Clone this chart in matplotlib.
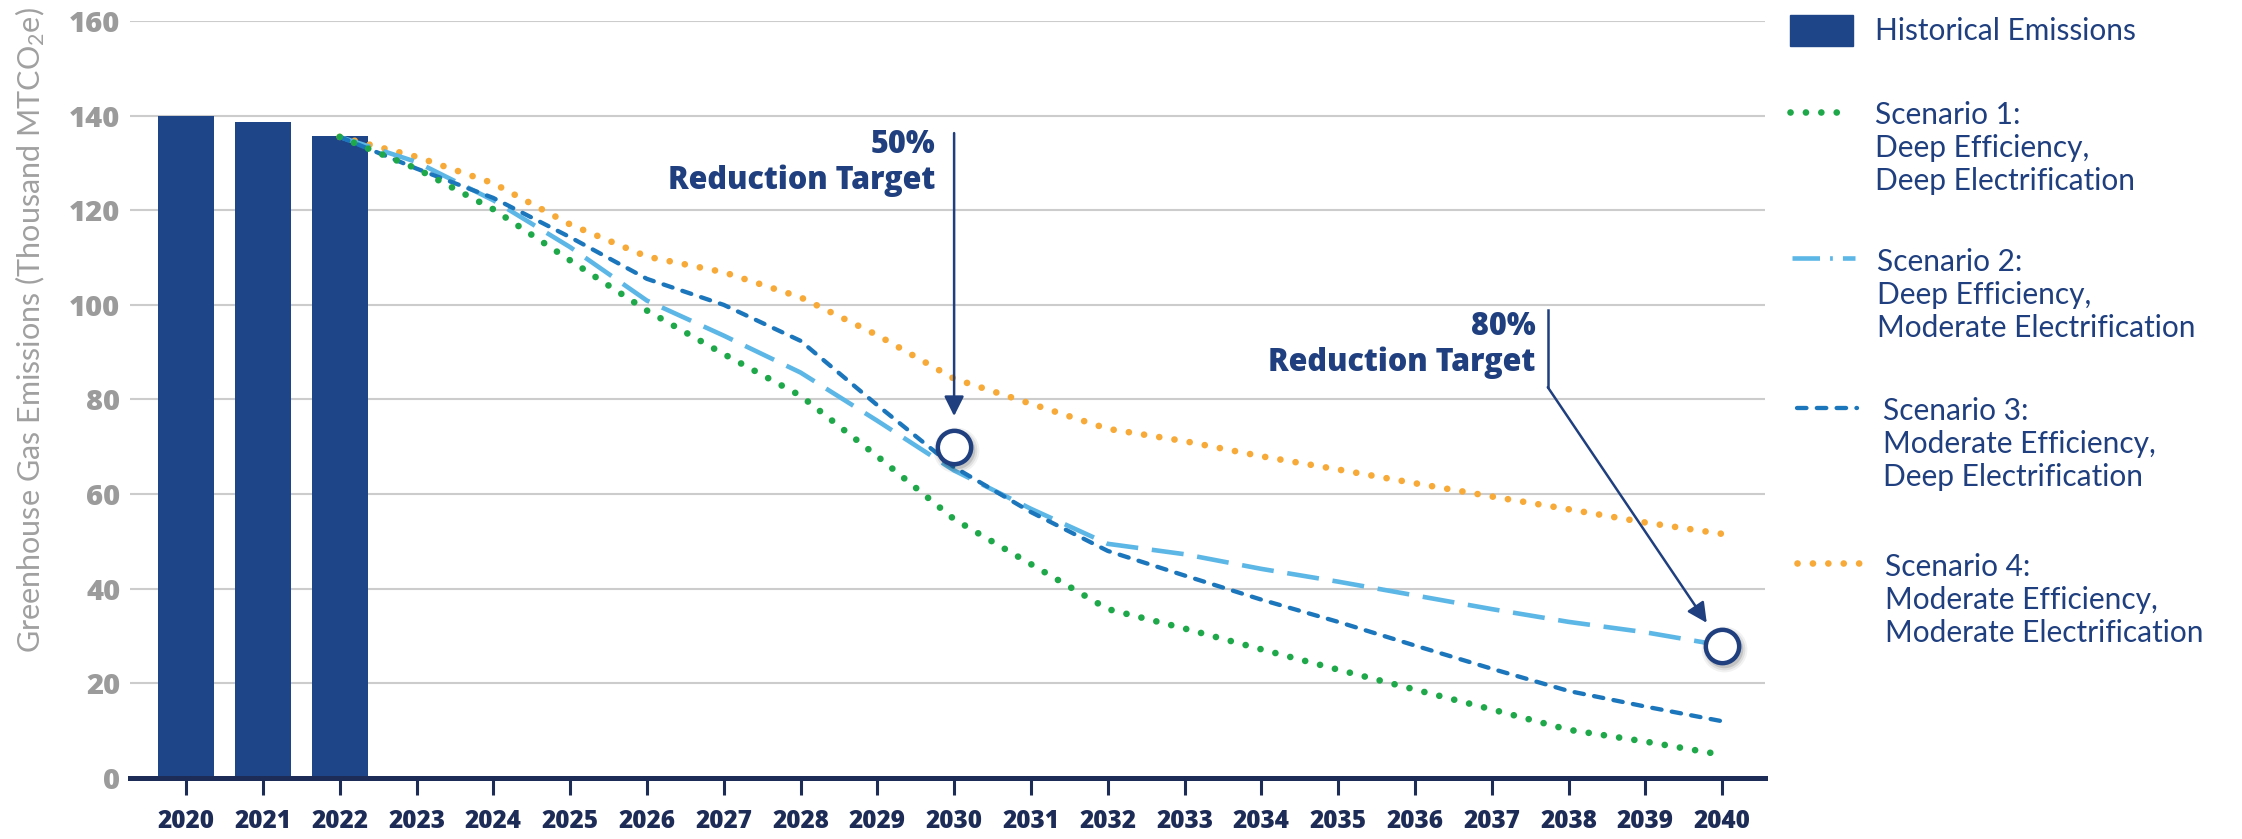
import matplotlib
matplotlib.use("Agg")
import matplotlib.pyplot as plt
from matplotlib.patches import Rectangle
from matplotlib.transforms import offset_copy

plt.rcParams['font.family'] = ['Lato', 'DejaVu Sans']
plt.rcParams['mathtext.default'] = 'regular'
heavy = ['Open Sans', 'DejaVu Sans']

# historical inventory (thousand MTCO2e)
hist_years = [2020, 2021, 2022]
hist_emissions = [140.0, 138.7, 135.7]

# projected scenarios, 2022-2040
years = list(range(2022, 2041))
scenario_1 = [135.5, 128.8, 120.2, 109.4, 98.8, 89.6, 80.8, 68.0, 54.7, 45.2,
              35.7, 31.6, 27.2, 22.9, 18.7, 14.5, 10.2, 7.7, 4.9]
scenario_2 = [135.5, 130.2, 122.1, 112.2, 100.9, 93.5, 85.7, 75.5, 65.0, 56.9,
              49.5, 47.3, 44.2, 41.5, 38.6, 35.7, 33.0, 30.8, 28.0]
scenario_3 = [135.5, 128.8, 122.6, 114.3, 105.5, 100.0, 92.4, 78.8, 65.7, 56.2,
              48.0, 42.8, 37.7, 33.0, 28.0, 23.1, 18.4, 15.1, 12.0]
scenario_4 = [135.5, 131.3, 125.7, 117.0, 110.2, 106.9, 101.6, 93.6, 84.4, 79.1,
              73.8, 71.2, 68.0, 65.2, 62.3, 59.5, 56.8, 54.0, 51.6]

# reduction targets (50% by 2030, 80% by 2040)
target_years = [2030, 2040]
target_values = [70, 28]

year_ticks = list(range(2020, 2041))
y_ticks = list(range(0, 161, 20))

bar_color = '#1f4589'
green = '#1fa84a'
light_blue = '#5cb6e6'
dark_blue = '#1c76bc'
orange = '#f7aa38'
navy = '#1f3f7f'
tick_navy = '#1d2b57'
grey = '#9b9b9b'

fig = plt.figure(figsize=(22.42, 8.39), dpi=100)
ax = fig.add_axes([0.058, 0.0727, 0.7293, 0.9023])

ax.bar(hist_years, hist_emissions, width=0.73, color=bar_color, zorder=2)

dot = dict(dash_capstyle='round', solid_capstyle='round')
dotted = (0, (0.01, 2.3))
ax.plot(years, scenario_4, color=orange, lw=4.8, linestyle=dotted, zorder=3, **dot)
ax.plot(years, scenario_2, color=light_blue, lw=3.3, linestyle=(0, (7, 3)), zorder=3)
ax.plot(years, scenario_3, color=dark_blue, lw=3.1, linestyle=(0, (2.2, 2.4)), zorder=3, **dot)
ax.plot(years, scenario_1, color=green, lw=4.8, linestyle=dotted, zorder=3, **dot)

# target markers with a soft drop shadow
shadow = offset_copy(ax.transData, fig=fig, x=2, y=-3, units='dots')
for ms, a in [(33, 0.05), (30, 0.08), (27, 0.12)]:
    ax.plot(target_years, target_values, 'o', ms=ms, color='black', alpha=a,
            mew=0, transform=shadow, zorder=4)
ax.plot(target_years, target_values, 'o', ms=24, mfc='white', mec=navy, mew=3.2, zorder=5)

# annotations
ax.text(2029.75, 129.9, '50%\nReduction Target', ha='right', va='center',
        multialignment='right', fontsize=22, fontweight=800, family=heavy,
        color=navy, linespacing=1.15)
ax.annotate('', xy=(2030, 76.5), xytext=(2030, 136.3),
            arrowprops=dict(arrowstyle='-|>', color=navy, lw=1.8, mutation_scale=30,
                            shrinkA=0, shrinkB=0), zorder=6)
ax.text(2037.57, 91.6, '80%\nReduction Target', ha='right', va='center',
        multialignment='right', fontsize=22, fontweight=800, family=heavy,
        color=navy, linespacing=1.15)
ax.plot([2037.73, 2037.73], [98.9, 82.6], color=navy, lw=1.8, zorder=6)
ax.annotate('', xy=(2039.80, 32.8), xytext=(2037.73, 82.6),
            arrowprops=dict(arrowstyle='-|>', color=navy, lw=1.8, mutation_scale=30,
                            shrinkA=0, shrinkB=0), zorder=6)

ax.set_xlim(2019.27, 2040.56)
ax.set_ylim(0, 160)
ax.set_xticks(year_ticks)
ax.set_xticklabels([str(y) for y in year_ticks], fontsize=17.5, fontweight=800,
                   family=heavy, color=tick_navy)
ax.set_yticks(y_ticks)
ax.set_yticklabels([str(v) for v in y_ticks], fontsize=21, fontweight=800,
                   family=heavy, color=grey)
ax.tick_params(axis='x', length=12, width=2.2, color=tick_navy, direction='out', pad=10)
ax.tick_params(axis='y', length=0, pad=7)
ax.grid(axis='y', color='#cccccc', lw=1.5, zorder=0)
ax.set_axisbelow(True)
for s in ['top', 'right', 'left']:
    ax.spines[s].set_visible(False)
ax.spines['bottom'].set_color(tick_navy)
ax.spines['bottom'].set_linewidth(3.6)
ax.spines['bottom'].set_zorder(6)

# overlay in pixel units for the legend and the axis title
ov = fig.add_axes([0, 0, 1, 1], zorder=-1)
ov.set_xlim(0, 2242)
ov.set_ylim(839, 0)
ov.axis('off')

ov.text(30, 330, 'Greenhouse Gas Emissions (Thousand MTCO$_2$e)', rotation=90,
        ha='center', va='center', fontsize=22, color='#a0a0a0')

fs = 21.5
ov.add_patch(Rectangle((1790, 15), 63, 31, color=bar_color))
ov.text(1875, 31, 'Historical Emissions', va='center', fontsize=fs, color=navy)

ov.plot([1790, 1848], [112, 112], color=green, lw=4.8, linestyle=dotted, **dot)
ov.text(1875, 148, 'Scenario 1:\nDeep Efficiency,\nDeep Electrification',
        va='center', fontsize=fs, color=navy, linespacing=1.23)

ov.plot([1792, 1855], [258, 258], color=light_blue, lw=3.3,
        linestyle=(0, (6, 2.2, 0.6, 2.2, 3, 10)))
ov.text(1877, 295, 'Scenario 2:\nDeep Efficiency,\nModerate Electrification',
        va='center', fontsize=fs, color=navy, linespacing=1.23)

ov.plot([1797, 1857], [408, 408], color=dark_blue, lw=3.1, linestyle=(0, (2.2, 2.4)), **dot)
ov.text(1883, 444, 'Scenario 3:\nModerate Efficiency,\nDeep Electrification',
        va='center', fontsize=fs, color=navy, linespacing=1.23)

ov.plot([1797, 1860], [563, 563], color=orange, lw=4.8, linestyle=dotted, **dot)
ov.text(1885, 600, 'Scenario 4:\nModerate Efficiency,\nModerate Electrification',
        va='center', fontsize=fs, color=navy, linespacing=1.23)

fig.savefig('out.png', dpi=100)
